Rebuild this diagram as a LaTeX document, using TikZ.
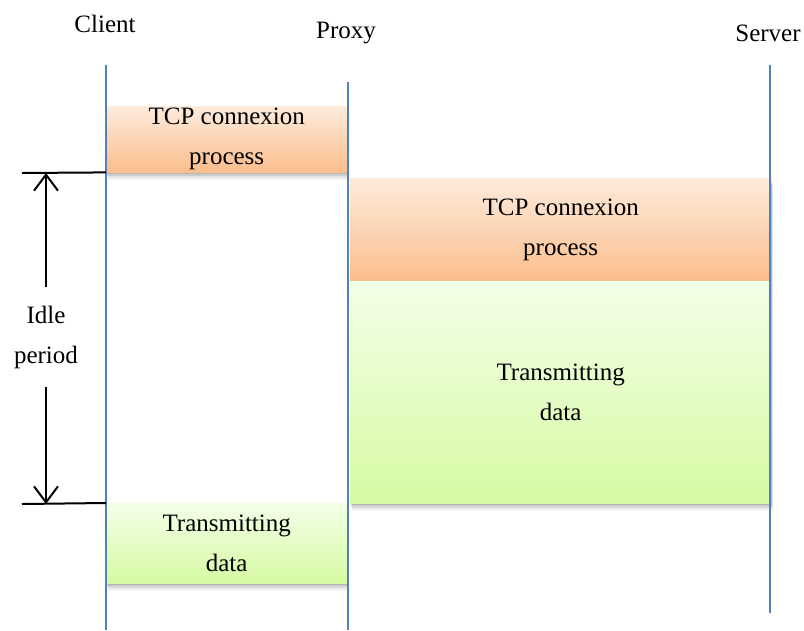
\documentclass[tikz,border=0pt]{standalone}
\usepackage{fontspec}
\setmainfont{Liberation Serif}
\usetikzlibrary{arrows.meta,shadows}

\definecolor{lineblue}{HTML}{4F81BD}
\definecolor{orangetop}{HTML}{FDEBDD}
\definecolor{orangebot}{HTML}{FBBE8C}
\definecolor{greentop}{HTML}{F3FFE8}
\definecolor{greenbot}{HTML}{D6FAA3}

\tikzset{
  lifeline/.style={draw=lineblue,line width=2.2pt},
  boxshadow/.style={
    drop shadow={shadow xshift=1pt,shadow yshift=-2pt,fill=black,opacity=.12},
    drop shadow={shadow xshift=1pt,shadow yshift=-4pt,fill=black,opacity=.1},
    drop shadow={shadow xshift=1.5pt,shadow yshift=-6pt,fill=black,opacity=.07},
    drop shadow={shadow xshift=2pt,shadow yshift=-8pt,fill=black,opacity=.04}},
  setupbox/.style={anchor=north west,inner sep=0pt,align=center,top color=orangetop,bottom color=orangebot,boxshadow},
  databox/.style={anchor=north west,inner sep=0pt,align=center,top color=greentop,bottom color=greenbot,boxshadow},
  idleline/.style={line width=2pt,black},
  idlearrow/.style={line width=2pt,-{Straight Barb[length=16pt,width=24pt,line width=2pt]}}
}

\begin{document}
\begin{tikzpicture}[x=1pt,y=-1pt,font=\fontsize{25}{40}\selectfont]
        \useasboundingbox (0,0) rectangle (804,630);
        % ends of the three lifelines
        \coordinate (clientTop) at (106,65);
        \coordinate (clientBot) at (106,630);
        \coordinate (proxyTop) at (348,82);
        \coordinate (proxyBot) at (348,630);
        \coordinate (serverTop) at (770,65);
        \coordinate (serverBot) at (770,613);
        % exchange phases
        \node[setupbox,minimum width=241pt,minimum height=66pt] (tcpA) at (106,106) {TCP connexion\\process};
        \node[setupbox,minimum width=421pt,minimum height=103pt] (tcpB) at (350,178) {TCP connexion\\process};
        \node[databox,minimum width=421pt,minimum height=222pt,text depth=-6pt] (dataB) at (350,281) {Transmitting\\data};
        \node[databox,minimum width=241pt,minimum height=80pt] (dataA) at (106,503) {Transmitting\\data};
        % lifelines
        \draw[lifeline] (clientTop) -- (clientBot);
        \draw[lifeline] (proxyTop) -- (proxyBot);
        \draw[lifeline] (serverTop) -- (serverBot);
        \node (client) at (105,24) {Client};
        \node (proxy) at (346,33) {Proxy};
        \node (server) at (768,33) {Server};
        % idle period
        \coordinate (idleTop) at (22,173);
        \coordinate (idleBot) at (22,504);
        \draw[idleline] (idleTop) -- (tcpA.south west);
        \draw[idleline] (idleBot) -- (dataA.north west);
        \node[inner sep=18pt,align=center] (idle) at (46,337) {Idle\\period};
        \draw[idlearrow] (idle.north) -- (idle.north |- idleTop);
        \draw[idlearrow] (idle.south) -- (idle.south |- idleBot);
\end{tikzpicture}
\end{document}
